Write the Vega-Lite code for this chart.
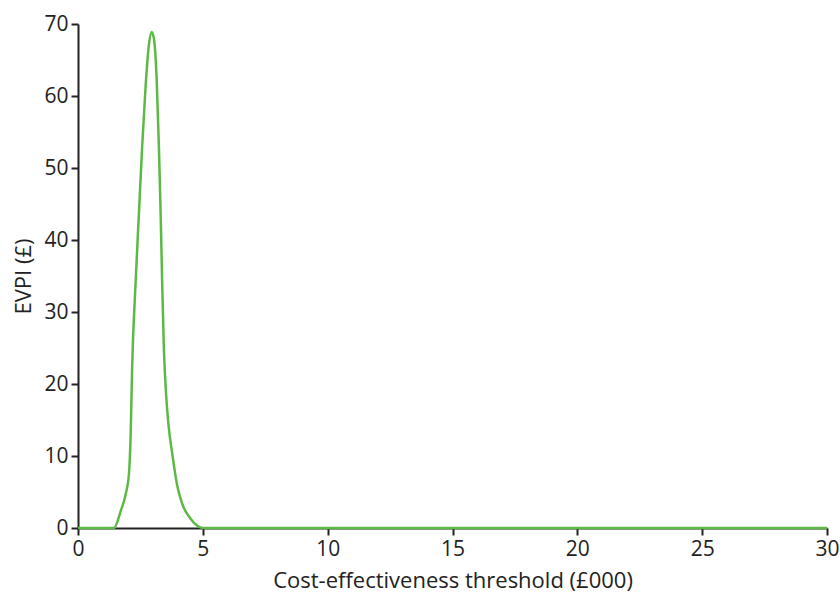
{
  "$schema": "https://vega.github.io/schema/vega-lite/v6.json",
  "width": 749,
  "height": 504,
  "autosize": "none",
  "padding": {"left": 78, "top": 24, "right": 13, "bottom": 65},
  "background": "white",
  "config": {
    "view": {"stroke": null},
    "font": "Open Sans",
    "axis": {
      "domainColor": "#222222",
      "domainWidth": 2,
      "tickColor": "#222222",
      "tickWidth": 2,
      "tickSize": 7,
      "grid": false,
      "zindex": 0,
      "labelFont": "Open Sans",
      "labelFontSize": 21,
      "labelColor": "#222222",
      "titleFont": "Open Sans",
      "titleFontSize": 22,
      "titleFontWeight": "normal",
      "titleColor": "#222222"
    }
  },
  "data": {
    "values": [
      {"x": 0, "y": 0},
      {"x": 1.44, "y": 0},
      {"x": 1.71, "y": 2.35},
      {"x": 1.91, "y": 4.7},
      {"x": 2.04, "y": 7.5},
      {"x": 2.11, "y": 13.1},
      {"x": 2.17, "y": 22.5},
      {"x": 2.31, "y": 34.3},
      {"x": 2.44, "y": 43.7},
      {"x": 2.57, "y": 53},
      {"x": 2.71, "y": 61.5},
      {"x": 2.84, "y": 67.1},
      {"x": 2.95, "y": 68.9},
      {"x": 3.04, "y": 68},
      {"x": 3.15, "y": 62.4},
      {"x": 3.24, "y": 53},
      {"x": 3.31, "y": 43.7},
      {"x": 3.37, "y": 34.3},
      {"x": 3.44, "y": 24.9},
      {"x": 3.53, "y": 18.5},
      {"x": 3.62, "y": 14.5},
      {"x": 3.78, "y": 10.2},
      {"x": 3.98, "y": 5.8},
      {"x": 4.18, "y": 3.3},
      {"x": 4.51, "y": 1.3},
      {"x": 4.78, "y": 0.3},
      {"x": 5.0, "y": 0},
      {"x": 30, "y": 0}
    ]
  },
  "mark": {"type": "line", "color": "#5cb946", "strokeWidth": 2.5, "interpolate": "monotone", "clip": false, "zindex": 1},
  "encoding": {
    "x": {
      "field": "x",
      "type": "quantitative",
      "scale": {"domain": [0, 30], "nice": false},
      "axis": {"values": [0, 5, 10, 15, 20, 25, 30], "title": "Cost-effectiveness threshold (£000)", "labelPadding": 3, "titlePadding": 11, "labelFlush": false}
    },
    "y": {
      "field": "y",
      "type": "quantitative",
      "scale": {"domain": [0, 70], "nice": false},
      "axis": {"values": [0, 10, 20, 30, 40, 50, 60, 70], "title": "EVPI (£)", "labelPadding": 3, "titlePadding": 8, "labelFlush": false}
    }
  }
}
